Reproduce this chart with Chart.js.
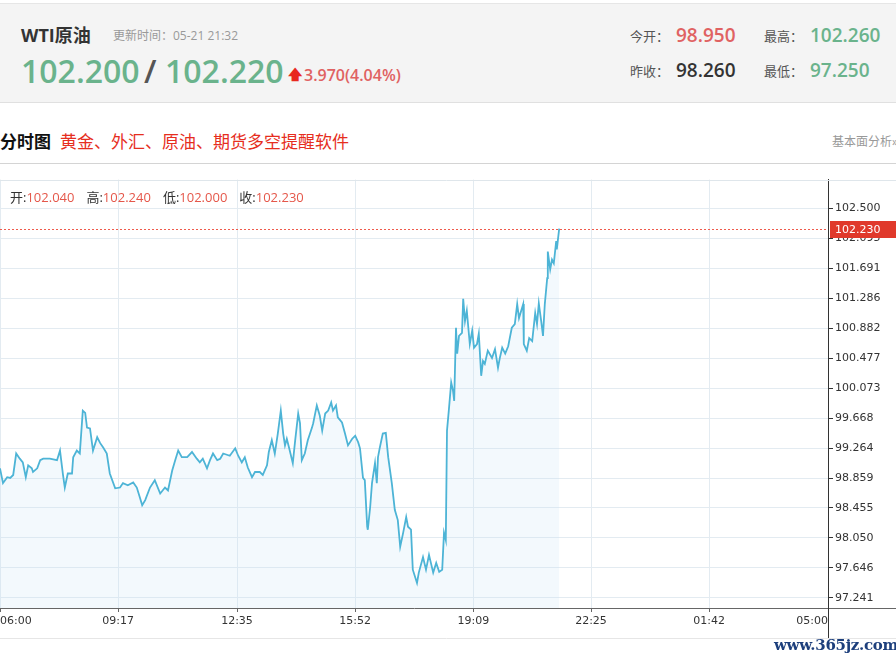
<!DOCTYPE html>
<html>
<head>
<meta charset="utf-8">
<script src="https://cdn.jsdelivr.net/npm/chart.js@4.4.1/dist/chart.umd.min.js"></script>
<style>
  body { margin: 0; width: 896px; height: 660px; overflow: hidden; background: #fff; position: relative;
         font-family: "Open Sans", "Noto Sans CJK SC", sans-serif; }
  .abs { position: absolute; white-space: nowrap; line-height: 1; }
  .head { position: absolute; left: 0; top: 3px; width: 896px; height: 98px; background: #f4f4f4;
          border-top: 1px solid #e6e6e6; border-bottom: 1px solid #e0e0e0; }
  .green { color: #6ab38c; }
  .red { color: #e06262; }
  .lbl { color: #555; font-size: 13px; }
  .num { font-size: 19px; font-weight: 600; }
  #ohlc { position: absolute; left: 10px; top: 187px; font-size: 13px; color: #333; z-index: 2;
          font-family: "Open Sans", "Noto Sans CJK SC", sans-serif; white-space: nowrap; }
  #ohlc span.v { color: #e5574a; margin-right: 12px; }
  #wrap { position: absolute; left: -3px; top: 171px; width: 899px; height: 470px; }
</style>
</head>
<body>
<div class="head"></div>
<div class="abs" style="left:21px;top:26px;font-size:18px;font-weight:700;color:#333;">WTI原油</div>
<div class="abs" style="left:113px;top:30px;font-size:12px;color:#999;">更新时间：05-21 21:32</div>
<div class="abs green" style="left:21px;top:55px;font-size:32px;font-weight:600;">102.200</div>
<div class="abs" style="left:144px;top:55px;font-size:32px;font-weight:600;color:#555;">/</div>
<div class="abs green" style="left:165px;top:55px;font-size:32px;font-weight:600;">102.220</div>
<div class="abs" style="left:288px;top:67px;font-size:14px;font-weight:700;color:#e8281e;">&#129093;</div>
<div class="abs red" style="left:304px;top:67px;font-size:16px;font-weight:600;">3.970(4.04%)</div>

<div class="abs lbl" style="left:630px;top:30px;">今开：</div>
<div class="abs red num" style="left:676px;top:26px;">98.950</div>
<div class="abs lbl" style="left:764px;top:30px;">最高：</div>
<div class="abs green num" style="left:810px;top:26px;">102.260</div>
<div class="abs lbl" style="left:630px;top:65px;">昨收：</div>
<div class="abs num" style="left:676px;top:61px;color:#333;">98.260</div>
<div class="abs lbl" style="left:764px;top:65px;">最低：</div>
<div class="abs green num" style="left:810px;top:61px;">97.250</div>

<div class="abs" style="left:0;top:133px;font-size:17px;font-weight:700;color:#111;">分时图</div>
<div class="abs" style="left:60px;top:133px;font-size:17px;color:#e62e1e;">黄金、外汇、原油、期货多空提醒软件</div>
<div class="abs" style="left:832px;top:136px;font-size:12px;color:#999;">基本面分析»</div>
<div class="abs" style="left:0;top:163px;width:896px;height:1px;background:#d4d4d4;"></div>

<div id="ohlc">开:<span class="v">102.040</span>高:<span class="v">102.240</span>低:<span class="v">102.000</span>收:<span class="v">102.230</span></div>
<div id="wrap"><canvas id="chart" width="899" height="470"></canvas></div>
<div class="abs" style="left:774px;top:638px;font-size:15px;font-weight:700;color:#1d3f7c;font-family:'DejaVu Serif',serif;letter-spacing:-0.3px;">www.365jz.com</div>

<script>
// minutes after 06:00
const timeOffsets = [0, 5, 12, 17, 22, 27, 33, 38, 43, 47, 53, 55, 62, 67, 72, 83, 95, 100, 105, 108,
  113, 120, 122, 128, 133, 138, 142, 145, 150, 155, 162, 167, 172, 178, 183, 192, 200, 205, 213, 222,
  228, 233, 237, 242, 250, 258, 267, 275, 280, 287, 292, 297, 303, 312, 320, 328, 333, 338, 345, 350,
  355, 362, 367, 372, 383, 392, 397, 403, 408, 413, 420, 425, 433, 438, 445, 448, 453, 458, 463, 468,
  472, 475, 478, 482, 488, 492, 497, 500, 503, 508, 513, 520, 522, 528, 533, 537, 542, 547, 552, 555,
  560, 563, 570, 575, 580, 587, 592, 597, 600, 605, 608, 612, 613, 617, 620, 625, 628, 630, 633, 638,
  643, 647, 653, 658, 663, 667, 672, 677, 680, 685, 688, 695, 698, 705, 710, 715, 722, 727, 732, 737,
  740, 743, 745, 748, 752, 755, 757, 760, 762, 765, 770, 772, 775, 778, 780, 783, 787, 790, 795, 798,
  802, 805, 808, 813, 820, 825, 830, 833, 837, 842, 847, 853, 858, 862, 865, 872, 873, 878, 882, 887,
  892, 895, 898, 902, 905, 908, 912, 913, 917, 920, 923, 927, 928, 932];

const prices = [98.99, 98.79, 98.87, 98.86, 98.90, 99.19, 99.12, 99.07, 98.87, 99.03, 98.99, 98.94, 98.99, 99.10, 99.12, 99.12, 99.10, 99.23, 98.90, 98.73,
  98.92, 98.92, 99.14, 99.23, 99.19, 99.77, 99.74, 99.54, 99.53, 99.23, 99.41, 99.33, 99.27, 99.19, 98.92, 98.72, 98.73, 98.79, 98.76, 98.80,
  98.73, 98.60, 98.49, 98.56, 98.73, 98.83, 98.65, 98.73, 98.69, 98.96, 99.10, 99.23, 99.14, 99.14, 99.21, 99.12, 99.07, 99.12, 98.99, 99.10,
  99.19, 99.10, 99.12, 99.19, 99.16, 99.26, 99.16, 99.07, 99.14, 99.00, 98.87, 98.94, 98.94, 98.90, 99.03, 99.21, 99.37, 99.19, 99.46, 99.77,
  99.46, 99.30, 99.39, 99.26, 99.06, 99.37, 99.73, 99.60, 99.10, 99.19, 99.37, 99.54, 99.60, 99.84, 99.70, 99.50, 99.73, 99.77, 99.88, 99.77,
  99.84, 99.68, 99.61, 99.46, 99.30, 99.39, 99.43, 99.34, 99.26, 98.86, 98.83, 98.20, 98.16, 98.47, 98.79, 99.06, 98.79, 99.14, 99.27, 99.46,
  99.47, 99.14, 98.79, 98.43, 98.29, 97.93, 98.12, 98.33, 98.20, 98.16, 97.62, 97.44, 97.58, 97.79, 97.62, 97.82, 97.58, 97.71, 97.59, 97.62,
  98.12, 98.02, 99.50, 99.77, 100.15, 100.04, 99.90, 100.89, 100.54, 100.78, 100.82, 101.28, 100.98, 101.12, 100.94, 100.67, 100.85, 100.62, 100.67, 100.81,
  100.24, 100.44, 100.40, 100.58, 100.48, 100.60, 100.35, 100.48, 100.62, 100.54, 100.64, 100.89, 100.94, 101.21, 101.02, 101.21, 100.67, 100.58, 100.75, 100.71,
  101.09, 100.94, 101.22, 100.98, 100.78, 101.21, 101.56, 101.92, 101.68, 101.81, 101.76, 102.06, 101.95, 102.23];

const xTickLabels = ['06:00', '09:17', '12:35', '15:52', '19:09', '22:25', '01:42', '05:00'];
const yTickLabels = ['97.241', '97.646', '98.050', '98.455', '98.859', '99.264', '99.668',
  '100.073', '100.477', '100.882', '101.286', '101.691', '102.095', '102.500'];

function toOffset(label) {
  const [h, m] = label.split(':').map(Number);
  let v = h * 60 + m - 360;
  if (v < 0) v += 1440;
  return v;
}

const points = timeOffsets.map((t, i) => ({ x: t, y: prices[i] }));
const lastPrice = prices[prices.length - 1];
const xTickPos = xTickLabels.map(toOffset);

const extras = {
  id: 'extras',
  afterDraw(chart) {
    const ctx = chart.ctx;
    const a = chart.chartArea;
    const W = chart.width, H = chart.height;
    ctx.save();
    // top border
    ctx.strokeStyle = '#dfe6eb';
    ctx.lineWidth = 1;
    ctx.beginPath();
    ctx.moveTo(0, Math.round(a.top) + 0.5); ctx.lineTo(W, Math.round(a.top) + 0.5);
    ctx.stroke();
    // bottom light line
    ctx.strokeStyle = '#e6e6e6';
    ctx.beginPath();
    ctx.moveTo(0, H - 2.5); ctx.lineTo(W, H - 2.5);
    ctx.stroke();
    // x axis continues past y axis
    ctx.strokeStyle = '#666';
    ctx.beginPath();
    ctx.moveTo(a.right, a.bottom + 0.5); ctx.lineTo(W, a.bottom + 0.5);
    ctx.stroke();
    // y axis continues below
    ctx.strokeStyle = '#333';
    ctx.beginPath();
    ctx.moveTo(a.right + 0.5, a.bottom); ctx.lineTo(a.right + 0.5, H - 3);
    ctx.stroke();
    // current price line
    const y = Math.round(chart.scales.y.getPixelForValue(lastPrice)) + 0.5;
    ctx.strokeStyle = '#ef5a4c';
    ctx.setLineDash([2, 2]);
    ctx.beginPath();
    ctx.moveTo(a.left, y); ctx.lineTo(a.right, y);
    ctx.stroke();
    ctx.setLineDash([]);
    // price tag
    ctx.fillStyle = '#e0392b';
    ctx.fillRect(a.right + 2, y - 8.5, W - a.right - 2, 17);
    ctx.fillStyle = '#fff';
    ctx.font = '11px "DejaVu Sans"';
    ctx.textBaseline = 'middle';
    ctx.fillText(lastPrice.toFixed(3), a.right + 7, y + 0.5);
    ctx.restore();
  }
};

new Chart(document.getElementById('chart'), {
  type: 'line',
  data: {
    datasets: [{
      data: points,
      borderColor: '#4db4d6',
      borderWidth: 1.8,
      backgroundColor: 'rgba(200, 228, 246, 0.22)',
      fill: 'start',
      pointRadius: 0,
      tension: 0,
    }],
  },
  options: {
    responsive: false,
    animation: false,
    layout: { padding: 0 },
    plugins: {
      legend: { display: false },
      tooltip: { enabled: false },
    },
    scales: {
      x: {
        type: 'linear',
        min: 0,
        max: 1380,
        afterBuildTicks: (scale) => { scale.ticks = xTickPos.map(v => ({ value: v })); },
        afterFit: (scale) => { scale.height = 33; },
        grid: {
          color: '#e3ebf1',
          tickColor: '#666',
          tickLength: 4,
        },
        border: { color: '#666' },
        ticks: {
          color: '#333',
          font: { family: 'DejaVu Sans', size: 11 },
          padding: 3,
          maxRotation: 0,
          align: 'inner',
          callback: (v, i) => xTickLabels[i],
        },
      },
      y: {
        position: 'right',
        min: 97.102,
        max: 102.892,
        afterBuildTicks: (scale) => { scale.ticks = yTickLabels.map(s => ({ value: parseFloat(s) })); },
        afterFit: (scale) => { scale.width = 68; },
        grid: {
          color: '#e3ebf1',
          tickColor: '#333',
          tickLength: 5,
        },
        border: { color: '#333' },
        ticks: {
          color: '#333',
          font: { family: 'DejaVu Sans', size: 11 },
          padding: 2,
          callback: (v, i) => yTickLabels[i],
        },
      },
    },
  },
  plugins: [extras],
});
</script>
</body>
</html>
